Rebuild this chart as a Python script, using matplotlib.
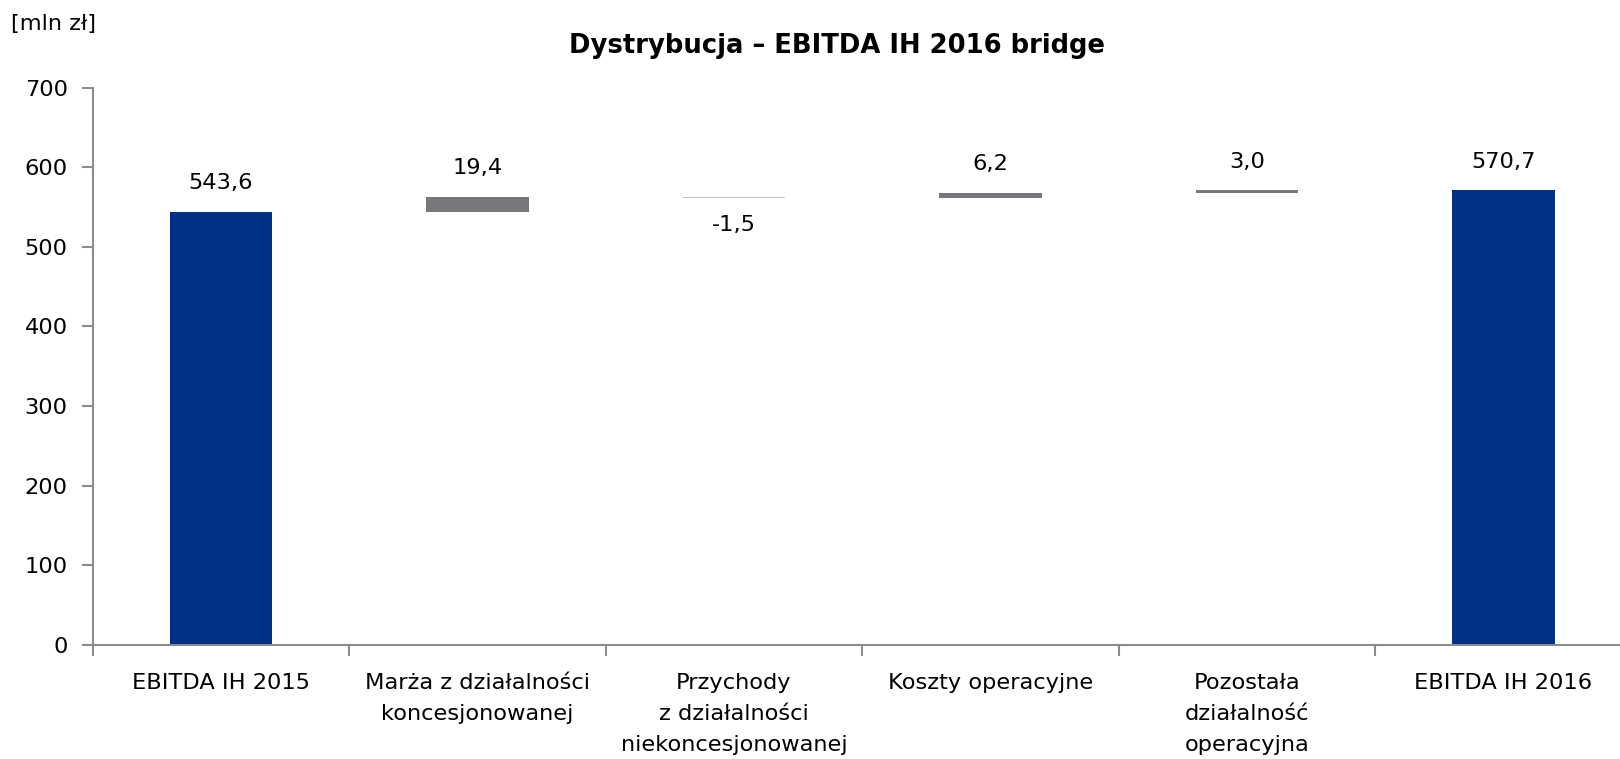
import numpy as np
import matplotlib
matplotlib.use("Agg")
import matplotlib.pyplot as plt

plt.rcParams['font.family'] = ['DejaVu Sans']

# dane z wykresu [mln zł]
categories = ["EBITDA IH 2015", "Marża z działalności\nkoncesjonowanej",
              "Przychody\nz działalności\nniekoncesjonowanej", "Koszty operacyjne",
              "Pozostała\ndziałalność\noperacyjna", "EBITDA IH 2016"]
start_value = 543.6
deltas = [19.4, -1.5, 6.2, 3.0]
end_value = 570.7

blue = "#003087"
grey = "#77787b"
light_grey = "#c4c4c4"
axis_col = "#8c8c8c"
fs = 16.2

fig = plt.figure(figsize=(16.2, 7.59), dpi=100)
ax = fig.add_axes([0.0572, 0.1502, 0.950, 0.7345])

x = np.arange(len(categories))
width = 0.4

# skrajne slupki
ax.bar(x[0], start_value, width, color=blue)
ax.bar(x[-1], end_value, width, color=blue)
ax.text(x[0], start_value + 36, f"{start_value:.1f}".replace(".", ","),
        ha="center", va="center", fontsize=fs)
ax.text(x[-1], end_value + 36, f"{end_value:.1f}".replace(".", ","),
        ha="center", va="center", fontsize=fs)

# mostek
level = start_value
for i, d in enumerate(deltas):
    pos = x[i + 1]
    bottom = level if d >= 0 else level + d
    ax.bar(pos, abs(d), width, bottom=bottom, color=grey if d >= 0 else light_grey)
    lab = f"{d:.1f}".replace(".", ",")
    if d >= 0:
        ax.text(pos, level + d + 36, lab, ha="center", va="center", fontsize=fs)
    else:
        ax.text(pos, level + d - 34, lab, ha="center", va="center", fontsize=fs)
    level += d

ax.set_xlim(-0.5, len(categories) - 0.5)
ax.set_ylim(0, 700)
ax.set_yticks(range(0, 701, 100))
ax.set_xticks(x)
ax.set_xticklabels(categories, fontsize=fs, linespacing=1.68)
ax.tick_params(axis="x", which="major", length=0, pad=20)
ax.set_xticks(np.arange(-0.5, len(categories), 1), minor=True)
ax.tick_params(axis="x", which="minor", length=8, color=axis_col, width=1.5)
ax.tick_params(axis="y", length=8, color=axis_col, width=1.5, labelsize=fs, pad=10)

for s in ["top", "right"]:
    ax.spines[s].set_visible(False)
for s in ["left", "bottom"]:
    ax.spines[s].set_color(axis_col)
    ax.spines[s].set_linewidth(1.5)

fig.text(0.5167, 0.939, "Dystrybucja – EBITDA IH 2016 bridge", ha="center", va="center",
         fontsize=18.6, fontweight="bold")
fig.text(0.007, 0.968, "[mln zł]", ha="left", va="center", fontsize=fs)

fig.savefig("out.png", dpi=100)
